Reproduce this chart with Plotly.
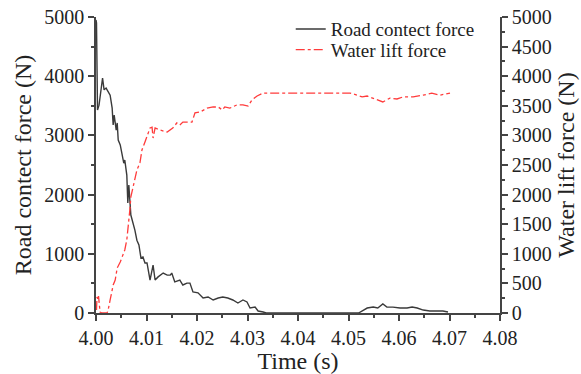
import plotly.graph_objects as go

# Road contact force (left axis)
road_t = [4.0000, 4.0001, 4.0003, 4.0006, 4.0013, 4.0016, 4.0020, 4.0024, 4.0028, 4.0032,
          4.0034, 4.0036, 4.0040, 4.0042, 4.0044, 4.0048, 4.0051, 4.0055, 4.0057, 4.0061,
          4.0063, 4.0065, 4.0069, 4.0073, 4.0077, 4.0081, 4.0085, 4.0089, 4.0093, 4.0097,
          4.0101, 4.0107, 4.0113, 4.0117, 4.0123, 4.0133, 4.0141, 4.0147, 4.0150, 4.0156,
          4.0166, 4.0172, 4.0180, 4.0186, 4.0192, 4.0202, 4.0212, 4.0222, 4.0232, 4.0242,
          4.0251, 4.0261, 4.0271, 4.0281, 4.0291, 4.0299, 4.0305, 4.0315, 4.0321, 4.0331,
          4.0337, 4.0520, 4.0523, 4.0537, 4.0549, 4.0558, 4.0568, 4.0576, 4.0588, 4.0602,
          4.0616, 4.0626, 4.0636, 4.0648, 4.0661, 4.0675, 4.0687, 4.0697]
road_f = [4950, 4900, 3430, 3510, 3970, 3770, 3800, 3730, 3680, 3460,
          3175, 3345, 3090, 3210, 2920, 2840, 2720, 2530, 2585, 2330,
          1860, 2160, 1655, 1540, 1400, 1230, 1150, 930, 945, 845,
          845, 557, 810, 557, 610, 675, 640, 640, 675, 525,
          557, 473, 505, 505, 355, 340, 253, 270, 220, 253,
          270, 253, 220, 169, 220, 186, 84, 100, 34, 17,
          0, 0, 17, 84, 100, 84, 152, 100, 100, 84,
          84, 100, 84, 50, 34, 34, 34, 17]

# Water lift force (right axis)
lift_t = [4.0001, 4.0002, 4.0004, 4.0005, 4.0008, 4.0012, 4.0022, 4.0024, 4.0028, 4.0034,
          4.0038, 4.0042, 4.0048, 4.0053, 4.0057, 4.0061, 4.0065, 4.0067, 4.0069, 4.0073,
          4.0077, 4.0081, 4.0087, 4.0091, 4.0097, 4.0103, 4.0107, 4.0111, 4.0113, 4.0117,
          4.0127, 4.0141, 4.0152, 4.0160, 4.0166, 4.0172, 4.0180, 4.0190, 4.0196, 4.0206,
          4.0220, 4.0232, 4.0242, 4.0250, 4.0255, 4.0265, 4.0279, 4.0291, 4.0301, 4.0309,
          4.0319, 4.0331, 4.0404, 4.0503, 4.0517, 4.0527, 4.0537, 4.0549, 4.0558, 4.0568,
          4.0582, 4.0596, 4.0608, 4.0628, 4.0648, 4.0665, 4.0681, 4.0701]
lift_f = [50, 270, 220, 287, 17, 0, 0, 50, 220, 473,
          557, 760, 860, 980, 1065, 1235, 1540, 1740, 1960, 2110,
          2215, 2415, 2535, 2755, 2890, 3055, 3125, 3140, 2955, 3125,
          3090, 3055, 3125, 3210, 3175, 3225, 3225, 3225, 3380, 3395,
          3460, 3480, 3480, 3430, 3480, 3460, 3515, 3515, 3495, 3600,
          3665, 3715, 3715, 3715, 3680, 3650, 3665, 3630, 3600, 3565,
          3630, 3615, 3650, 3650, 3680, 3715, 3680, 3715]

x_ticks = [4.00, 4.01, 4.02, 4.03, 4.04, 4.05, 4.06, 4.07, 4.08]
x_labels = ["4.00", "4.01", "4.02", "4.03", "4.04", "4.05", "4.06", "4.07", "4.08"]

FONT = "Liberation Serif, Times New Roman, serif"
AX = "#444444"

fig = go.Figure()
fig.add_trace(go.Scatter(x=road_t, y=road_f, mode="lines", name="Road contect force",
                         line=dict(color="#3a3a3a", width=1.4), legend="legend"))
fig.add_trace(go.Scatter(x=lift_t, y=lift_f, mode="lines", name="Water lift force",
                         line=dict(color="#ff3b3b", width=1.3, dash="dashdot"), yaxis="y2",
                         legend="legend2"))

leg = dict(xanchor="left", yanchor="middle", bgcolor="rgba(0,0,0,0)",
           font=dict(size=19), borderwidth=0)

fig.update_layout(
    width=581, height=374,
    margin=dict(l=96, r=81, t=17, b=61, autoexpand=False),
    paper_bgcolor="white", plot_bgcolor="white",
    font=dict(family=FONT, size=20, color="#222222"),
    showlegend=True,
    legend=dict(leg, x=0.482, y=0.959),
    legend2=dict(leg, x=0.482, y=0.889),
    xaxis=dict(range=[4.0, 4.08], tickvals=x_ticks, ticktext=x_labels, automargin=False,
               ticklabeloverflow="allow",
               showgrid=False, zeroline=False, showline=True, linecolor=AX, linewidth=1.5,
               ticks="outside", ticklen=6, tickcolor=AX, tickwidth=1.5,
               minor=dict(dtick=0.005, ticks="outside", ticklen=3, tickcolor=AX, tickwidth=1.5),
               title=dict(text="Time (s)", standoff=5)),
    yaxis=dict(range=[0, 5000], dtick=1000, showgrid=False, zeroline=False, automargin=False,
               ticklabeloverflow="allow",
               showline=True, linecolor=AX, linewidth=1.5,
               ticks="outside", ticklen=6, tickcolor=AX, tickwidth=1.5,
               minor=dict(dtick=500, ticks="outside", ticklen=3, tickcolor=AX, tickwidth=1.5),
               title=dict(text="Road contect force (N)", standoff=6)),
    yaxis2=dict(range=[0, 5000], dtick=500, overlaying="y", side="right", automargin=False,
                ticklabeloverflow="allow",
                showgrid=False, zeroline=False, showline=True, linecolor=AX, linewidth=1.5,
                ticks="outside", ticklen=6, tickcolor=AX, tickwidth=1.5,
                minor=dict(dtick=250, ticks="outside", ticklen=3, tickcolor=AX, tickwidth=1.5),
                title=dict(text="Water lift force (N)", standoff=6)),
)

fig.write_html("out.html", config={"displayModeBar": False},
               post_script="document.body.style.margin='0';document.body.style.overflow='hidden';")
